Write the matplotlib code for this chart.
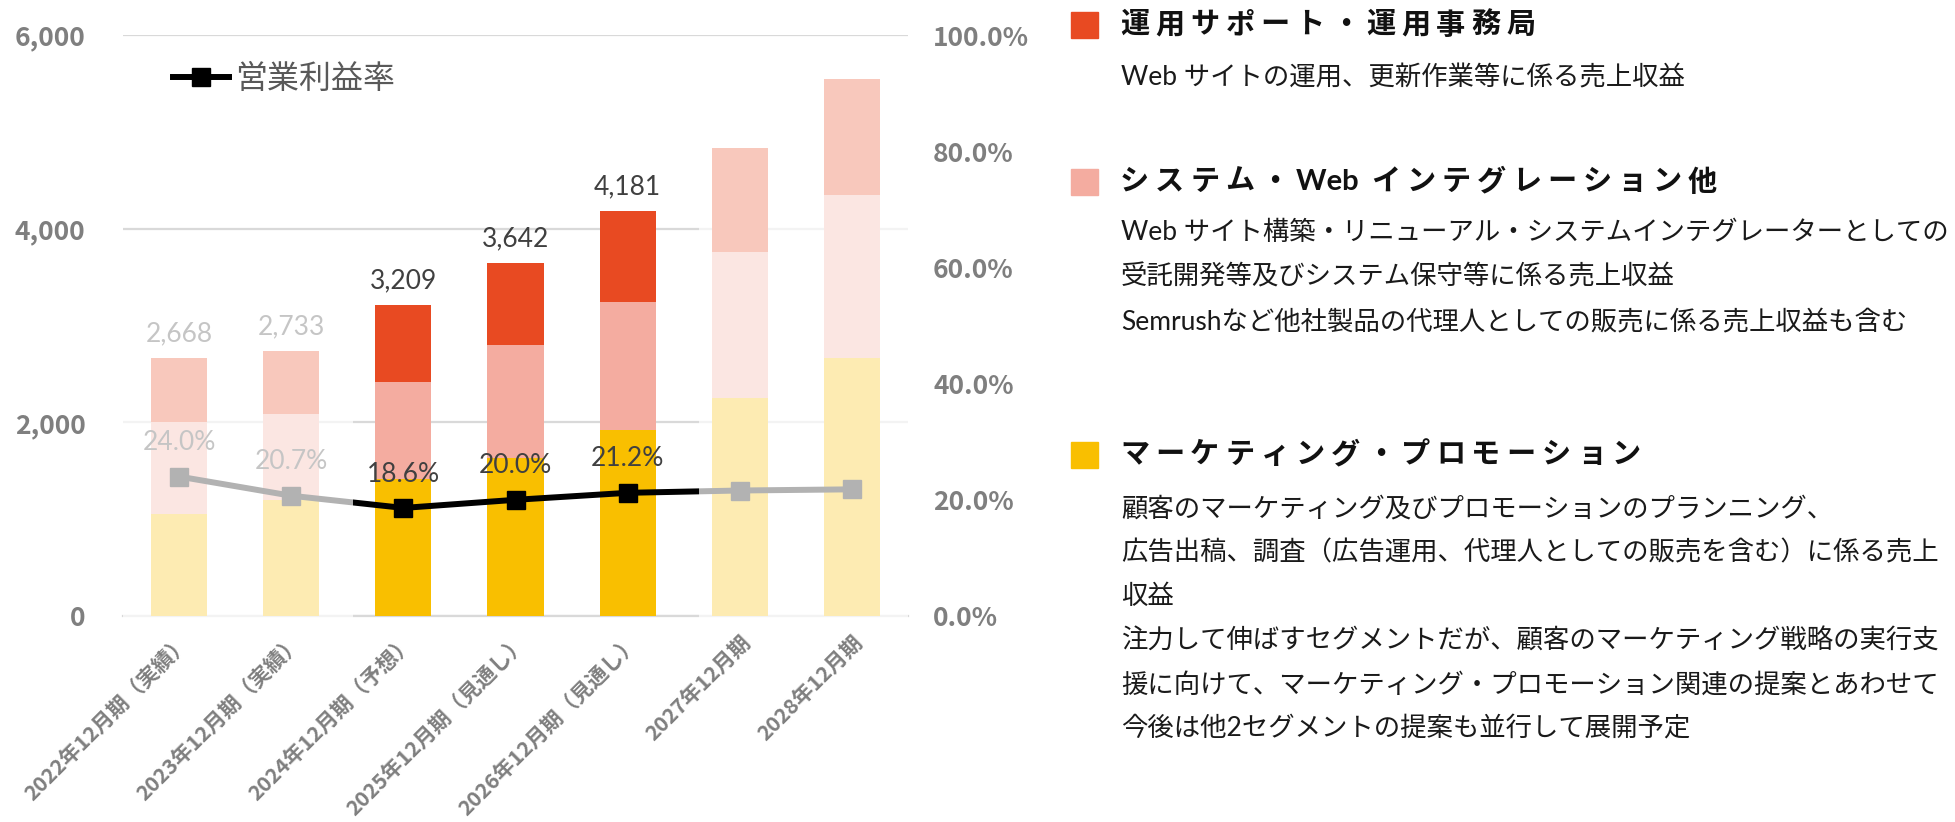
import numpy as np
import matplotlib.pyplot as plt
from matplotlib.patches import Rectangle
from matplotlib.lines import Line2D

plt.rcParams['font.family'] = ['Lato', 'Noto Sans CJK JP', 'DejaVu Sans']

# data
periods = ['2022年12月期（実績）', '2023年12月期（実績）', '2024年12月期（予想）',
           '2025年12月期（見通し）', '2026年12月期（見通し）', '2027年12月期', '2028年12月期']
marketing = [1050, 1200, 1410, 1630, 1920, 2250, 2660]
system = [950, 890, 1010, 1170, 1320, 1510, 1690]
operation = [668, 643, 789, 842, 941, 1070, 1200]
totals = [2668, 2733, 3209, 3642, 4181]
margin = [24.0, 20.7, 18.6, 20.0, 21.2, 21.6, 21.8]
margin_labels = ['24.0%', '20.7%', '18.6%', '20.0%', '21.2%']

seg_titles = ['運用サポート・運用事務局', 'システム・Web インテグレーション他', 'マーケティング・プロモーション']
seg_notes = [
    ['Web サイトの運用、更新作業等に係る売上収益'],
    ['Web サイト構築・リニューアル・システムインテグレーターとしての',
     '受託開発等及びシステム保守等に係る売上収益',
     'Semrushなど他社製品の代理人としての販売に係る売上収益も含む'],
    ['顧客のマーケティング及びプロモーションのプランニング、',
     '広告出稿、調査（広告運用、代理人としての販売を含む）に係る売上',
     '収益',
     '注力して伸ばすセグメントだが、顧客のマーケティング戦略の実行支',
     '援に向けて、マーケティング・プロモーション関連の提案とあわせて',
     '今後は他2セグメントの提案も並行して展開予定'],
]

RED = '#E84A22'
SALMON = '#F4ACA0'
YELLOW = '#F9BF00'
W, H = 1955, 822
TICKFONT = ['Noto Sans CJK JP', 'DejaVu Sans']

fig = plt.figure(figsize=(W / 100, H / 100), dpi=100)
ax1 = fig.add_axes([123 / W, (H - 616) / H, 785 / W, 581 / H])
ax2 = ax1.twinx()

x = np.arange(len(periods))
b1 = np.array(marketing)
b2 = b1 + np.array(system)
ax1.bar(x, marketing, 0.5, color=YELLOW, zorder=2)
ax1.bar(x, system, 0.5, bottom=b1, color=SALMON, zorder=2)
ax1.bar(x, operation, 0.5, bottom=b2, color=RED, zorder=2)

for i, t in enumerate(totals):
    ax1.annotate(f'{t:,}', (x[i], t), xytext=(0, 12), textcoords='offset points',
                 ha='center', va='baseline', fontsize=19, color='#404040', zorder=3)

ax1.set_xlim(-0.5, len(periods) - 0.5)
ax1.set_ylim(0, 6000)
ax1.set_yticks([0, 2000, 4000, 6000], ['0', '2,000', '4,000', '6,000'],
               fontweight='bold', family=TICKFONT)
ax1.yaxis.grid(True, color='#D9D9D9', lw=1.6, zorder=0)
ax1.axhline(0, color='#D9D9D9', lw=1.6, clip_on=False, zorder=1)
ax1.set_axisbelow(True)
ax1.set_xticks(x, periods, rotation=45, ha='right', rotation_mode='anchor',
               fontweight='bold', family=TICKFONT)
ax1.tick_params(axis='x', length=0, pad=11, labelsize=15.3, labelcolor='#7F7F7F')
ax1.tick_params(axis='y', length=0, pad=27, labelsize=19, labelcolor='#7F7F7F')

ax2.plot(x, margin, color='black', lw=4.3, marker='s', ms=13.5, zorder=5)
for i, lbl in enumerate(margin_labels):
    ax2.annotate(lbl, (x[i], margin[i]), xytext=(0, 19), textcoords='offset points',
                 ha='center', va='baseline', fontsize=19, color='#404040', zorder=6)
ax2.set_ylim(0, 100)
ax2.set_yticks([0, 20, 40, 60, 80, 100], [f'{v:.1f}%' for v in [0, 20, 40, 60, 80, 100]],
               fontweight='bold', family=TICKFONT)
ax2.tick_params(axis='y', length=0, pad=18, labelsize=19, labelcolor='#7F7F7F')

for ax in (ax1, ax2):
    for s in ax.spines.values():
        s.set_visible(False)

# white veil over actual / long-range years
for x0, x1, top in [(-0.5, 1.55, 3700), (4.64, 6.5, 5800)]:
    ax2.add_patch(Rectangle((x0, -45), x1 - x0, top + 45, transform=ax1.transData,
                            facecolor='white', alpha=0.7, lw=0, zorder=10, clip_on=False))
ax2.set_ylim(0, 100)

handle = Line2D([], [], color='black', lw=4.3, marker='s', ms=13)
leg = ax2.legend([handle], ['営業利益率'], loc='center left', bbox_to_anchor=(0.027, 0.924),
                 frameon=False, fontsize=23, handlelength=1.75, handletextpad=0.2,
                 labelcolor='#595959')
leg.set_zorder(20)

# right-hand description panel
renderer = fig.canvas.get_renderer()


def spaced(xp, yp, tokens, gap):
    for tok in tokens:
        t = fig.text(xp / W, 1 - yp / H, tok, va='center', ha='left', fontsize=21,
                     weight='bold', color='#111111')
        xp += t.get_window_extent(renderer).width + gap


title_y = [25, 182, 455]
note_y = [[78], [232, 277, 322], [509, 553, 597, 641, 685, 729]]
colors = [RED, SALMON, YELLOW]
for k in range(3):
    fig.add_artist(Rectangle((1071 / W, 1 - (title_y[k] + 13) / H), 27 / W, 26 / H,
                             transform=fig.transFigure, color=colors[k]))
    title = seg_titles[k]
    if 'Web ' in title:
        a, b = title.split('Web ')
        tokens = list(a) + ['Web '] + list(b)
    else:
        tokens = list(title)
    spaced(1120, title_y[k], tokens, 6)
    for line, yy in zip(seg_notes[k], note_y[k]):
        fig.text(1121 / W, 1 - yy / H, line, va='center', ha='left', fontsize=19,
                 color='#1A1A1A')

fig.savefig('out.png', dpi=100)
